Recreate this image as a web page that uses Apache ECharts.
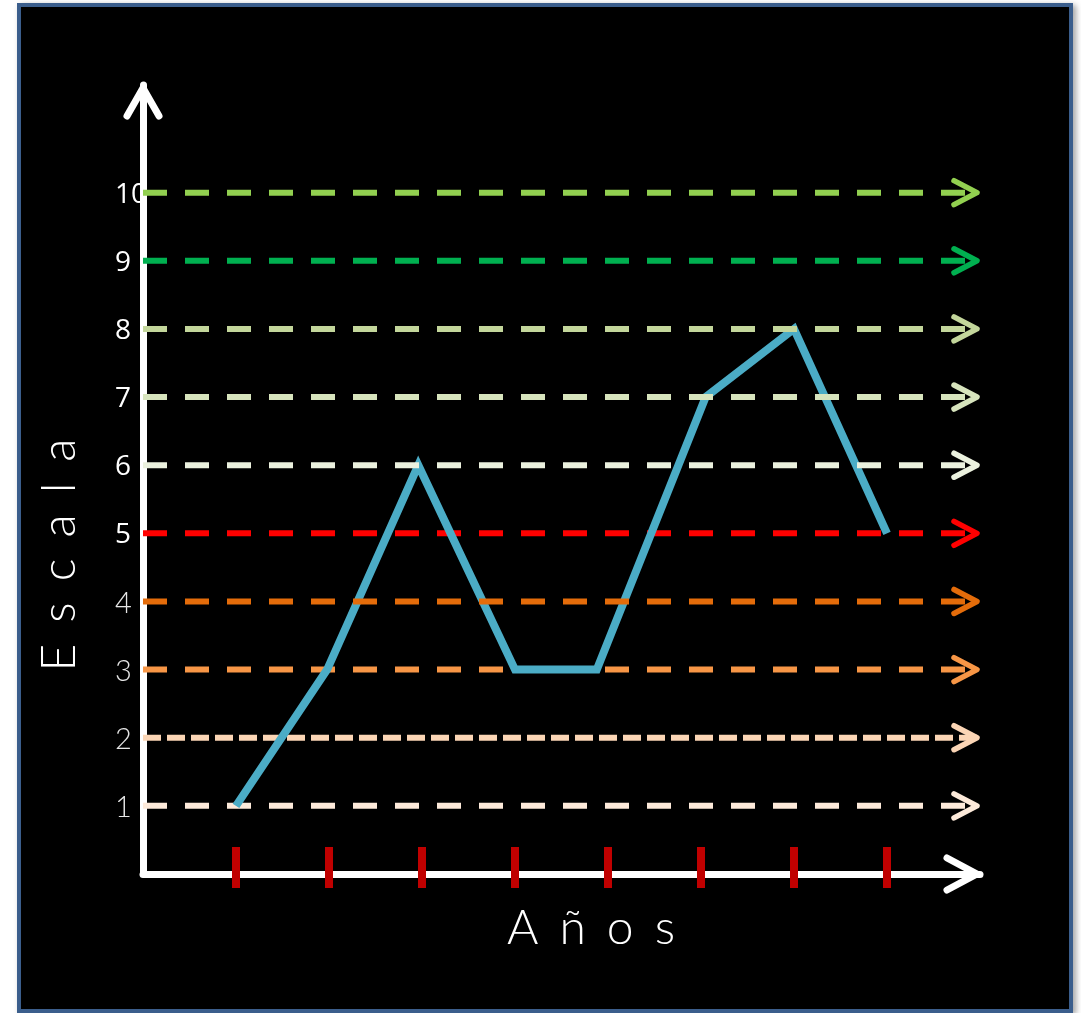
<!DOCTYPE html>
<html>
<head>
<meta charset="utf-8">
<script src="https://cdn.jsdelivr.net/npm/echarts@6/dist/echarts.min.js"></script>
<style>
html,body{margin:0;padding:0;background:#ffffff;}
#chart{width:1081px;height:1013px;}
</style>
</head>
<body>
<div id="chart"></div>
<script>
// ---- data ----
const yearTicks = [1, 2, 3, 4, 5, 6, 7, 8];
const lineX = [1, 1.98, 2.96, 4, 4.88, 6.05, 7, 8];
const lineY = [1, 3, 6, 3, 3, 7, 8, 5];
const levels = [1, 2, 3, 4, 5, 6, 7, 8, 9, 10];
const levelLabels = ['1', '2', '3', '4', '5', '6', '7', '8', '9', '10'];
const levelColors = ['#FDEADA', '#FBD5B5', '#F79646', '#E46C0A', '#FF0000',
                     '#EBF1DE', '#D7E4BD', '#C3D69B', '#00B050', '#92D050'];
const levelsUnderLine = [1, 2, 3, 5];
const xTitle = 'A \u2006ñ \u2006o \u2006s';
const yTitle = 'E \u2006s \u2006c \u2006a \u2006l \u2006a';
const X_MAX = 9, Y_MAX = 11.58;

const chart = echarts.init(document.getElementById('chart'), null, {renderer: 'canvas'});

function levelRender(params, api) {
  const v = api.value(0);
  const idx = levels.indexOf(v);
  const color = levelColors[idx];
  const p0 = api.coord([0, v]);
  const p1 = api.coord([X_MAX, v]);
  const dash = v === 2 ? [18, 6] : [24, 18];
  return {
    type: 'group',
    children: [
      {type: 'line', shape: {x1: p0[0], y1: p0[1], x2: p1[0] - 2, y2: p1[1]},
       style: {stroke: color, lineWidth: 6, lineDash: dash, lineCap: 'butt'}},
      {type: 'polyline',
       shape: {points: [[p1[0] - 26, p1[1] - 12], [p1[0] - 3, p1[1]], [p1[0] - 26, p1[1] + 12]]},
       style: {stroke: color, fill: null, lineWidth: 5.5, lineCap: 'round', lineJoin: 'round'}}
    ]
  };
}

const option = {
  backgroundColor: 'transparent',
  animation: false,
  grid: {left: 143, right: 101, top: 85, bottom: 139, containLabel: false},
  xAxis: {
    type: 'value', min: 0, max: X_MAX, interval: 1,
    axisLine: {show: true, lineStyle: {color: '#FFFFFF', width: 7}},
    axisTick: {show: false}, axisLabel: {show: false}, splitLine: {show: false}
  },
  yAxis: {
    type: 'value', min: 0, max: Y_MAX, interval: 1,
    axisLine: {show: true, lineStyle: {color: '#FFFFFF', width: 7}},
    axisTick: {show: false}, splitLine: {show: false},
    axisLabel: {
      show: true, align: 'left', margin: 28, padding: [4, 0, 0, 0],
      formatter: function (v) {
        const i = levels.indexOf(v);
        if (i < 0) return '';
        return (v >= 5 ? '{a|' : '{b|') + levelLabels[i] + '}';
      },
      rich: {
        a: {fontFamily: 'Open Sans', fontSize: 28, color: '#FFFFFF', align: 'left'},
        b: {fontFamily: 'Lato', fontWeight: 300, fontSize: 29, color: '#E6E6E6', align: 'left'}
      }
    }
  },
  graphic: [
    {type: 'rect', z: -10, silent: true,
     shape: {x: 19, y: 5, width: 1052, height: 1006},
     style: {fill: '#000000', stroke: '#3B5E8C', lineWidth: 4,
             shadowColor: 'rgba(0,0,0,0.3)', shadowBlur: 6, shadowOffsetX: 3, shadowOffsetY: 2}},
    {type: 'text', silent: true, x: 60, y: 555, rotation: Math.PI / 2,
     style: {text: yTitle, x: 0, y: 0, align: 'center', verticalAlign: 'middle',
             fontFamily: 'Lato', fontWeight: 300, fontSize: 48, fill: '#FFFFFF'}},
    {type: 'text', silent: true, x: 591, y: 929,
     style: {text: xTitle, x: 0, y: 0, align: 'center', verticalAlign: 'middle',
             fontFamily: 'Lato', fontWeight: 300, fontSize: 48, fill: '#FFFFFF'}}
  ],
  series: [
    {type: 'custom', name: 'levelsBelow', z: 2, silent: true, clip: false,
     data: levels.filter(v => levelsUnderLine.indexOf(v) >= 0).map(v => [v]),
     renderItem: levelRender},
    {type: 'line', name: 'valor', z: 3, silent: true, showSymbol: false, symbol: 'none',
     data: lineX.map((x, i) => [x, lineY[i]]),
     lineStyle: {color: '#4BACC6', width: 8, join: 'miter'}},
    {type: 'custom', name: 'levelsAbove', z: 4, silent: true, clip: false,
     data: levels.filter(v => levelsUnderLine.indexOf(v) < 0).map(v => [v]),
     renderItem: levelRender},
    {type: 'custom', name: 'ticks', z: 5, silent: true, clip: false,
     data: yearTicks.map(t => [t]),
     renderItem: function (params, api) {
       const p = api.coord([api.value(0), 0]);
       return {type: 'rect', shape: {x: p[0] - 4, y: p[1] - 27, width: 8, height: 41},
               style: {fill: '#C00000'}};
     }},
    {type: 'custom', name: 'axisArrows', z: 5, silent: true, clip: false,
     data: [[X_MAX, 0], [0, Y_MAX]],
     renderItem: function (params, api) {
       const p = api.coord([api.value(0), api.value(1)]);
       let pts;
       if (params.dataIndex === 0) {
         pts = [[p[0] - 33, p[1] - 16], [p[0] - 3, p[1]], [p[0] - 33, p[1] + 16]];
       } else {
         pts = [[p[0] - 16, p[1] + 31], [p[0], p[1] + 3], [p[0] + 16, p[1] + 31]];
       }
       return {type: 'polyline', shape: {points: pts},
               style: {stroke: '#FFFFFF', fill: null, lineWidth: 7, lineCap: 'round', lineJoin: 'round'}};
     }}
  ]
};
chart.setOption(option);
</script>
</body>
</html>
